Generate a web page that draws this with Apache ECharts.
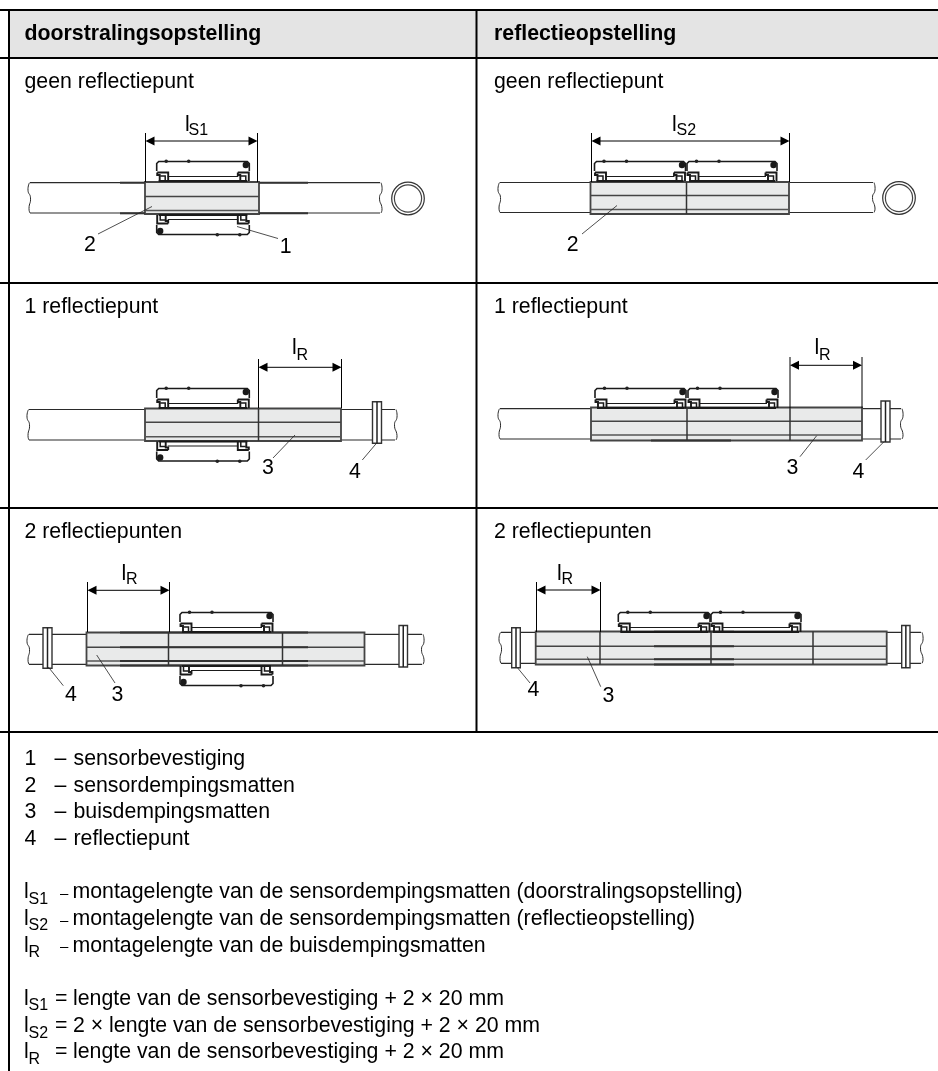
<!DOCTYPE html>
<html><head><meta charset="utf-8">
<style>html,body{margin:0;padding:0;background:#fff}#c{width:938px;height:1071px}</style>
<script src="https://cdn.jsdelivr.net/npm/echarts@6/dist/echarts.min.js"></script>
</head><body><div id="c"></div>
<script>
// ---- table ----
const headerBand = [[9, 10, 938, 58]];
const tableLines = [[0,10,938,10],[0,58,938,58],[0,283,938,283],[0,508,938,508],[0,732,938,732],[9,10,9,1071],[476.5,10,476.5,732]];
const headers = [["doorstralingsopstelling",24.5,39.5],["reflectieopstelling",494,39.5]];
const rowTitles = [
 ["geen reflectiepunt",24.5,87],["geen reflectiepunt",494,87],
 ["1 reflectiepunt",24.5,312.7],["1 reflectiepunt",494,312.7],
 ["2 reflectiepunten",24.5,537.7],["2 reflectiepunten",494,537.7]];
// ---- diagram parts ----
// pipes: x0,x1,yTop,yBottom
const pipes = [[28,382,182.7,213],[498,875,182.5,212.5],[27,397,409.5,440],[498,903,408.7,439],[27,424,634.3,664.3],[499,923,632.3,663.3]];
// mats: x0,x1,yTop,yBottom,line1,line2
const mats = [[145,259,182,214,196.5,210.5],[590.5,789,182,214,195.5,209.5],[145,341,408.5,441,422.3,436.7],[591,862,407.5,440.5,421.3,435],[86.5,364.5,632.5,665.5,647.3,661],[535.7,886.7,631.5,664.5,646.3,659.3]];
// mat dividers: x,yTop,yBottom
const dividers = [[686.5,182,214],[258.5,408.5,441],[687,407.5,440.5],[790,407.5,440.5],[168.5,632.5,665.5],[282.5,632.5,665.5],[600,631.5,664.5],[711,631.5,664.5],[813,631.5,664.5]];
// thick overlays: x0,x1,y
const thick = [[120,145,182.7],[259,308,182.7],[120,145,213.3],[259,308,213.3],[651,731,408],[651,731,440.5],[120,308,632.5],[120,308,647.3],[120,308,661],[120,308,665.5],[654,734,631.8],[654,734,646.3],[654,734,659.3],[654,734,664.5]];
// brackets: x0,x1,baseY,flipped(0 above pipe, 1 below pipe)
const brackets = [[156.7,249.3,181,0],[156.7,249.3,215,1],[594.5,685.5,181,0],[687,777,181,0],[156.7,249.3,408,0],[156.7,249.3,441.5,1],[595,686,408,0],[688,778,408,0],[180,273,632,0],[180,273,666,1],[618.3,710,632,0],[711,801,632,0]];
// flanges: x0,x1,yTop,yBottom
const flanges = [[372.5,381.5,401.7,443.3],[881,890,401,442],[43,52,627.7,668.3],[399,407.5,625.5,667],[511.7,520.3,627.7,667.7],[901.7,910,625.5,667.7]];
// rings: cx,cy
const rings = [[408,198.5],[899,198]];
// dimensions: x0,x1,yArrow,yExtTop,yExtBottom
const dims = [[145.5,257.5,141,133,182],[591.5,789.5,141,133,182],[258.5,341.5,367.3,359,408],[790,862,365.3,357,408],[87.5,169.5,590.3,582,632],[536.5,600.5,590,582,632]];
// leaders: x0,y0,x1,y1
const leaders = [[152,206.5,98,234],[237,226.5,278,238.5],[617,205.5,582,234],[295,435,273,458],[376.7,443,362.3,460],[816.7,435.7,800,456.7],[884,441.7,865.7,460],[96.7,655,115,683],[48.3,667,63.3,685.7],[587.3,656.7,600.7,686.7],[517.7,668,530,683]];
// callouts: text,cx,baseline
const callouts = [["2",90,250],["1",285.7,252],["2",572.7,250],["3",268,473.3],["4",355,477],["3",792.3,473.3],["4",858.3,477.7],["4",71,700],["3",117.3,700],["4",533.3,695],["3",608.3,701.7]];
// dimension names: main, sub, x, baseline, subX, subBaseline
const dimNames = [["l","S1",185,130,188.5,135],["l","S2",672,130,676.5,135],["l","R",292,353.3,296.5,360],["l","R",814.5,353.3,819,360],["l","R",121.5,579,126,584],["l","R",557,579,561.5,584]];
// ---- legend ----
const keyLines = [["1","sensorbevestiging",764.3],["2","sensordempingsmatten",791.7],["3","buisdempingsmatten",817.7],["4","reflectiepunt",844.3]];
const defLines = [["S1","montagelengte van de sensordempingsmatten (doorstralingsopstelling)",897.7],["S2","montagelengte van de sensordempingsmatten (reflectieopstelling)",924.3],["R","montagelengte van de buisdempingsmatten",951]];
const formulaLines = [["S1","lengte van de sensorbevestiging + 2 × 20 mm",1004.3],["S2","2 × lengte van de sensorbevestiging + 2 × 20 mm",1031.7],["R","lengte van de sensorbevestiging + 2 × 20 mm",1057.7]];

const FONT = '"Liberation Sans", Arial, sans-serif';
const BODY = 21.3, SUB = 16;
const prims = [];
const line = (pts, color, w, smooth) => prims.push({k:'line', pts, color, w, smooth:smooth||0});
const rect = (x0,y0,x1,y1,fill,stroke,w) => prims.push({k:'rect',x0,y0,x1,y1,fill,stroke,w});
const poly = (pts, fill) => prims.push({k:'poly',pts,fill});
const circle = (cx,cy,r,fill,stroke,w) => prims.push({k:'circle',cx,cy,r,fill,stroke,w});
const text = (s,x,y,size,opt) => prims.push(Object.assign({k:'text',s,x,y:y-0.25*size,size,weight:'normal',align:'left'},opt||{}));

headerBand.forEach(b=>rect(b[0],b[1],b[2],b[3],'#e4e4e4'));
// pipes
pipes.forEach(([x0,x1,t,b])=>{
  const c='#2a2a2a', m=(t+b)/2, q=(b-t)/4;
  line([[x0+2,t],[x1-2,t]],c,1.2); line([[x0+2,b],[x1-2,b]],c,1.2);
  line([[x0+1.5,t],[x0,t+q],[x0+2.5,m],[x0+1,b-q*.6],[x0+2,b]],c,1,0.6);
  line([[x1-1,t],[x1,t+q],[x1-2.5,m],[x1,b-q*.6],[x1-1,b]],c,1,0.6);
});
rings.forEach(([cx,cy])=>{circle(cx,cy,16.3,'#fff','#333',1.2);circle(cx,cy,13.6,'#fff','#444',1.2);});
// mats
mats.forEach(([x0,x1,t,b,l1,l2])=>{
  rect(x0,t,x1,b,'#e9eaea','#444',1.8);
  line([[x0,l1],[x1,l1]],'#444',1.4); line([[x0,l2],[x1,l2]],'#555',1.4);
});
dividers.forEach(([x,t,b])=>line([[x,t],[x,b]],'#333',1.5));
thick.forEach(([x0,x1,y])=>line([[x0,y],[x1,y]],'#333',2));
// brackets
brackets.forEach(([x0,x1,base,flip])=>{
  const P=(dx,u)=> flip ? [x1-dx, base+u] : [x0+dx, base-u];
  const w=x1-x0, c='#1a1a1a';
  line([P(0,10),P(0,17.5),P(2,19.5),P(w-2,19.5),P(w,17.5),P(w,10)],c,1.6);
  line([P(11,4.5),P(w-11,4.5)],c,1.2);
  line([P(2,0),P(w-2,0)],c,1.8);
  [[0.5],[w-11.5]].forEach(([d])=>{
    line([P(d,8.5),P(d+11,8.5),P(d+11,0)],c,1.9);
    line([P(d,8.5),P(d,6),P(d+2.5,6),P(d+2.5,0)],c,1.9);
    line([P(d+3,5),P(d+8,5),P(d+8,0)],c,1.5);
  });
  const b=P(w-3.5,16); circle(b[0],b[1],3.2,'#1a1a1a');
  [P(9.5,19.8),P(32,19.8)].forEach(p=>circle(p[0],p[1],1.8,'#222'));
});
// flanges
flanges.forEach(([x0,x1,t,b])=>{
  rect(x0,t,x1,b,'#fff','#333',1.4);
  const m=(x0+x1)/2; line([[m,t],[m,b]],'#222',1.5);
});
// dimensions
dims.forEach(([x0,x1,y,t,b])=>{
  line([[x0,t],[x0,b]],'#000',1); line([[x1,t],[x1,b]],'#000',1);
  line([[x0+8,y],[x1-8,y]],'#000',1);
  poly([[x0,y],[x0+9,y-4.5],[x0+9,y+4.5]],'#000');
  poly([[x1,y],[x1-9,y-4.5],[x1-9,y+4.5]],'#000');
});
leaders.forEach(([a,b,c,d])=>line([[a,b],[c,d]],'#222',0.8));
// texts
headers.forEach(([s,x,y])=>text(s,x,y,BODY,{weight:'bold'}));
rowTitles.forEach(([s,x,y])=>text(s,x,y,BODY));
callouts.forEach(([s,x,y])=>text(s,x,y,BODY,{align:'center'}));
dimNames.forEach(([m,sub,x,y,sx,sy])=>{text(m,x,y,BODY);text(sub,sx,sy,SUB);});
keyLines.forEach(([n,s,y])=>{text(n,24.5,y,BODY);text('–',54.5,y,BODY);text(s,73.5,y,BODY);});
const sym=(sub,y)=>{text('l',24,y,BODY);text(sub,28.5,y+5.5,SUB);};
defLines.forEach(([sub,s,y])=>{sym(sub,y);text('–',60,y,15);text(s,72.5,y,BODY);});
formulaLines.forEach(([sub,s,y])=>{sym(sub,y);text('=',55,y,BODY);text(s,73,y,BODY);});
// table rules on top
tableLines.forEach(([a,b,c,d])=>line([[a,b],[c,d]],'#000',2));

function renderItem(params, api){
  const p = prims[api.value(0)];
  const C = (x,y)=>api.coord([x,y]);
  if(p.k==='line') return {type:'polyline',shape:{points:p.pts.map(q=>C(q[0],q[1])),smooth:p.smooth},style:{stroke:p.color,lineWidth:p.w,fill:null}};
  if(p.k==='poly') return {type:'polygon',shape:{points:p.pts.map(q=>C(q[0],q[1]))},style:{fill:p.fill}};
  if(p.k==='rect'){const a=C(p.x0,p.y0),b=C(p.x1,p.y1);return {type:'rect',shape:{x:a[0],y:a[1],width:b[0]-a[0],height:b[1]-a[1]},style:{fill:p.fill,stroke:p.stroke||null,lineWidth:p.w||0}};}
  if(p.k==='circle'){const a=C(p.cx,p.cy);return {type:'circle',shape:{cx:a[0],cy:a[1],r:p.r},style:{fill:p.fill,stroke:p.stroke||null,lineWidth:p.w||0}};}
  const a=C(p.x,p.y);
  return {type:'text',x:a[0],y:a[1],style:{text:p.s,fill:'#000',font:`${p.weight} ${p.size}px ${FONT}`,textAlign:p.align,verticalAlign:'middle'}};
}
const chart = echarts.init(document.getElementById('c'),null,{renderer:'canvas'});
chart.setOption({
  animation:false, backgroundColor:'#fff',
  grid:{left:0,right:0,top:0,bottom:0},
  xAxis:{type:'value',min:0,max:938,show:false},
  yAxis:{type:'value',min:0,max:1071,inverse:true,show:false},
  series:[{type:'custom',silent:true,clip:false,renderItem,data:prims.map((_,i)=>[i]),encode:{x:[],y:[]}}]
});
</script></body></html>
